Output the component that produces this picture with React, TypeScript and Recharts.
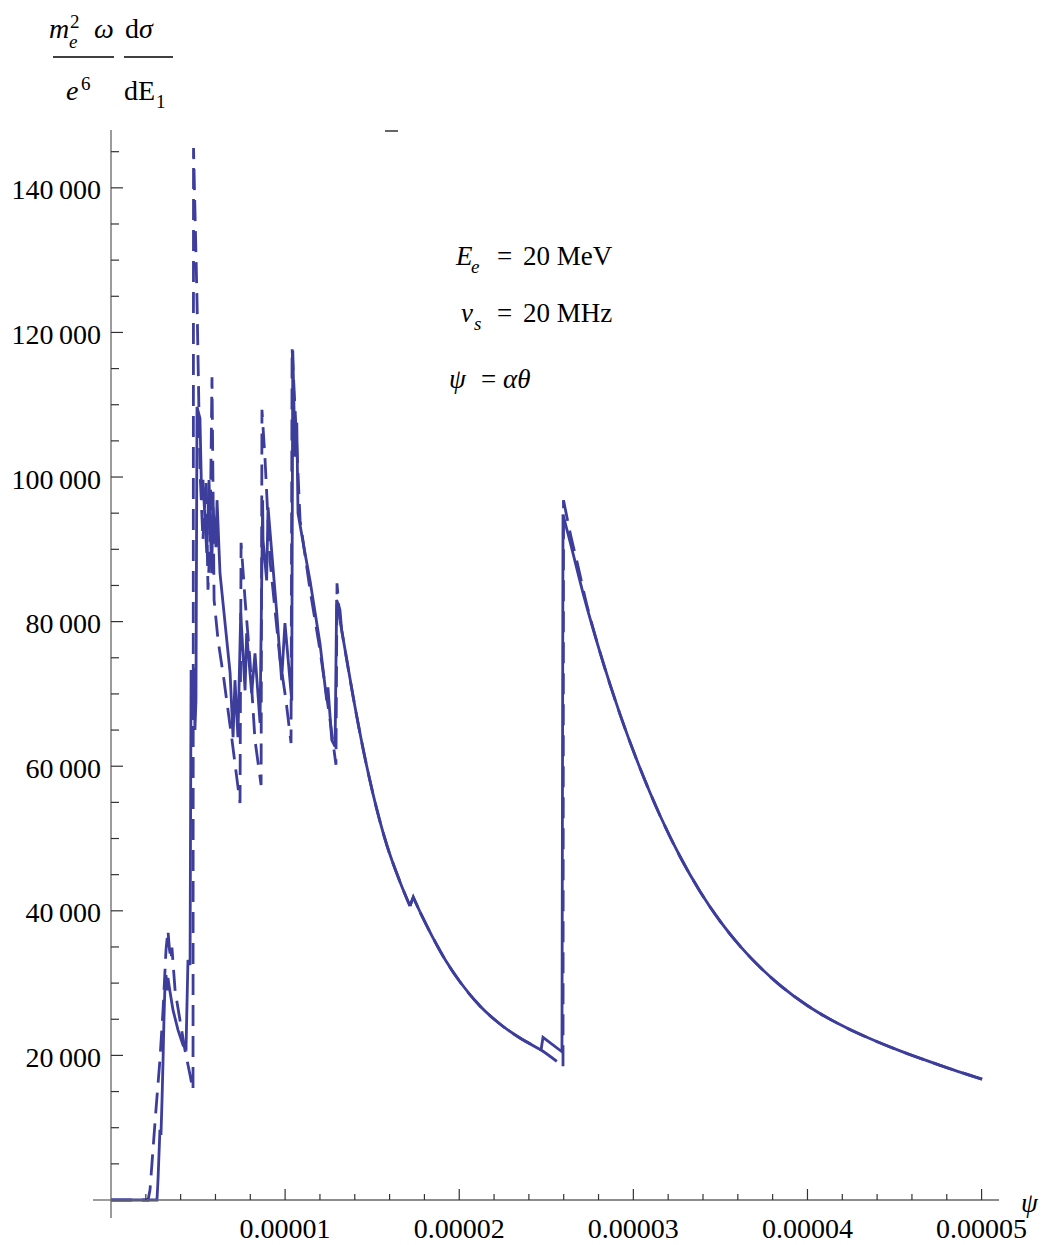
import React from 'react';
import { LineChart, Line, XAxis, YAxis } from 'recharts';

// psi in units of 1e-6; values of (m_e^2 ω / e^6) dσ/dE1
// solid curve: jagged part (straight segments)
const solidJaggedPsi = [
  0, 2.64, 2.70, 2.81, 2.87, 2.93, 2.99, 3.04, 3.10, 3.16, 3.22, 3.27, 3.39, 3.56, 3.85, 4.14, 4.31, 4.37, 4.42, 4.54,
  4.60, 4.65, 4.77, 4.82, 4.88, 4.94, 5.11, 5.21, 5.28, 5.50, 5.63, 5.78, 5.86, 6.03, 6.09, 6.26, 6.55, 6.84, 7.01, 7.12,
  7.29, 7.45, 7.70, 7.79, 8.08, 8.27, 8.56, 8.71, 8.73, 8.94, 9.02, 9.52, 9.80, 9.99, 10.38, 10.44, 10.57, 10.67, 10.74, 11.10,
  11.43, 12.00, 12.39, 12.46, 12.68, 12.87, 12.96, 13.15, 13.25,
];
const solidJaggedVal = [
  0, 0, 2770, 9700, 9000, 13800, 19400, 24900, 29700, 31100, 29000, 30700, 28800, 26300, 23500, 21400, 21000, 27700, 33200, 32500,
  73300, 66400, 73600, 65000, 69100, 109700, 108100, 96800, 99600, 89500, 99600, 86700, 95800, 90300, 96800, 86700, 79800, 72900, 64000, 71900,
  64000, 81200, 70500, 78400, 70100, 75600, 66000, 96800, 91300, 85700, 95800, 81200, 71900, 79800, 69100, 117500, 102800, 107500, 95000, 90000,
  85700, 77000, 69100, 70900, 63600, 62700, 83000, 81600, 78800,
];
// solid curve: first smooth decay, small sawtooth, second smooth decay
const solidDecayAPsi = [13.25, 13.90, 14.47, 15.05, 15.84, 16.60, 17.17];
const solidDecayAVal = [78800, 69700, 62500, 56150, 49100, 44000, 40660];
const bumpPsi = [17.17, 17.36, 17.75];
const bumpVal = [40660, 41900, 39830];
const solidDecayBPsi = [17.75, 18.50, 19.24, 20.05, 21.19, 22.34, 23.49, 24.70];
const solidDecayBVal = [39830, 36230, 33050, 30150, 26830, 24340, 22400, 20750];
// solid curve: step and jump near 2.6e-5
const solidJumpPsi = [24.70, 24.81, 25.90, 25.96];
const solidJumpVal = [20750, 22500, 20500, 94800];
// solid curve: last decay
const solidTailPsi = [25.96, 26.36, 27.11, 28.09, 29.24, 30.39, 31.53, 32.68, 33.83, 34.98, 36.13, 37.28, 38.43, 40.03, 41.87, 43.48, 45.32, 47.62, 50.03];
const solidTailVal = [94800, 91100, 83950, 75720, 67140, 59680, 53180, 47510, 42670, 38570, 35110, 32180, 29690, 26830, 24260, 22430, 20620, 18630, 16710];

// dashed curve
const dashedJaggedPsi = [
  0, 2.13, 2.24, 2.41, 2.58, 2.81, 2.99, 3.16, 3.27, 3.36, 3.45, 3.50, 3.68, 3.96, 4.25, 4.54, 4.71, 4.74, 4.94, 5.11,
  5.28, 5.46, 5.57, 5.69, 5.80, 5.92, 6.15, 6.49, 6.95, 7.41, 7.47, 7.70, 7.98, 8.27, 8.62, 8.67, 8.85, 9.13, 9.71, 10.05,
  10.34, 10.40, 10.63, 10.86, 11.43, 12.00, 12.58, 12.92, 12.98, 13.15,
];
const dashedJaggedVal = [
  0, 0, 1400, 6900, 12400, 19400, 26300, 34600, 37300, 34600, 33200, 34900, 29000, 24900, 20700, 17300, 15200, 145500, 124500, 101000,
  91300, 99600, 84400, 91300, 113800, 83000, 77400, 71900, 63600, 54900, 90900, 83000, 74700, 63600, 57400, 109300, 102300, 88500, 74700, 69100,
  63200, 117800, 106500, 94000, 84400, 76100, 66400, 60200, 85300, 80200,
];
const dashedDecayAPsi = [13.15, 13.44, 13.90, 14.47, 15.05, 15.84, 16.60, 17.17];
const dashedDecayAVal = [80200, 76100, 69700, 62500, 56150, 49100, 44000, 40660];
const dashedDecayBPsi = [17.75, 18.50, 19.24, 20.05, 21.19, 22.34, 23.49, 24.70, 25.96];
const dashedDecayBVal = [39830, 36230, 33050, 30150, 26830, 24340, 22400, 20750, 18500];
const dashedJumpPsi = [25.96, 25.99];
const dashedJumpVal = [18500, 96800];
const dashedTailPsi = [25.99, 26.36, 26.82, 27.23, 28.09, 29.24, 30.39, 31.53, 32.68, 33.83, 34.98, 36.13, 37.28, 38.43, 40.03, 41.87, 43.48, 45.32, 47.62, 50.03];
const dashedTailVal = [96800, 92400, 87700, 83300, 75720, 67140, 59680, 53180, 47510, 42670, 38570, 35110, 32180, 29690, 26830, 24260, 22430, 20620, 18630, 16710];

const xTickMicro = [0, 2, 4, 6, 8, 10, 12, 14, 16, 18, 20, 22, 24, 26, 28, 30, 32, 34, 36, 38, 40, 42, 44, 46, 48, 50];
const yTickValues = [0, 5000, 10000, 15000, 20000, 25000, 30000, 35000, 40000, 45000, 50000, 55000, 60000, 65000, 70000,
  75000, 80000, 85000, 90000, 95000, 100000, 105000, 110000, 115000, 120000, 125000, 130000, 135000, 140000, 145000];

const toData = (psi: number[], val: number[]) => psi.map((p, i) => ({ x: p * 1e-6, y: val[i] }));
const xTicks = xTickMicro.map((m) => m * 1e-6);

const solidSegments = [
  { data: toData(solidJaggedPsi, solidJaggedVal), curve: 'linear' },
  { data: toData(solidDecayAPsi, solidDecayAVal), curve: 'monotone' },
  { data: toData(bumpPsi, bumpVal), curve: 'linear' },
  { data: toData(solidDecayBPsi, solidDecayBVal), curve: 'monotone' },
  { data: toData(solidJumpPsi, solidJumpVal), curve: 'linear' },
  { data: toData(solidTailPsi, solidTailVal), curve: 'monotone' },
];
const dashedSegments = [
  { data: toData(dashedJaggedPsi, dashedJaggedVal), curve: 'linear' },
  { data: toData(dashedDecayAPsi, dashedDecayAVal), curve: 'monotone' },
  { data: toData(bumpPsi, bumpVal), curve: 'linear' },
  { data: toData(dashedDecayBPsi, dashedDecayBVal), curve: 'monotone' },
  { data: toData(dashedJumpPsi, dashedJumpVal), curve: 'linear' },
  { data: toData(dashedTailPsi, dashedTailVal), curve: 'monotone' },
];

const FONT = '"Liberation Serif", "Times New Roman", serif';
const LINE = '#3d3d9c';
const AXIS = '#666';
const TICK = '#333';

const XTick = (props: any) => {
  const { x, y, payload } = props;
  const v = payload.value as number;
  const k = Math.round(v * 1e6);
  const major = k % 10 === 0;
  return (
    <g>
      {k === 0 ? (
        <line x1={x - 18} y1={y} x2={x} y2={y} stroke={AXIS} strokeWidth={1.3} />
      ) : (
        <line x1={x} y1={y} x2={x} y2={y - (major ? 11 : 6)} stroke={TICK} strokeWidth={1.2} />
      )}
      {major && k !== 0 ? (
        <text x={x} y={y + 38} textAnchor="middle" fontFamily={FONT} fontSize={28} fill="#000">
          {(k * 1e-6).toFixed(5)}
        </text>
      ) : null}
    </g>
  );
};

const YTick = (props: any) => {
  const { x, y, payload } = props;
  const v = payload.value as number;
  const major = v % 20000 === 0;
  return (
    <g>
      {v === 0 ? (
        <line x1={x} y1={y} x2={x} y2={y + 18} stroke={AXIS} strokeWidth={1.3} />
      ) : (
        <line x1={x} y1={y} x2={x + (major ? 12 : 8)} y2={y} stroke={TICK} strokeWidth={1.2} />
      )}
      {major && v > 0 ? (
        <text x={x - 10} y={y + 11.5} textAnchor="end" fontFamily={FONT} fontSize={28} fill="#000">
          {`${Math.round(v / 1000)}\u2009000`}
        </text>
      ) : null}
    </g>
  );
};

export default function App() {
  return (
    <div style={{ position: 'absolute', left: 0, top: 0, width: 1043, height: 1245, background: '#fff' }}>
      <LineChart width={1043} height={1245} margin={{ top: 130, right: 44, bottom: 15, left: 0 }}>
        <XAxis
          dataKey="x"
          type="number"
          domain={[0, 5.1e-5]}
          ticks={xTicks}
          interval={0}
          tickSize={0}
          tickMargin={0}
          tick={<XTick />}
          tickLine={false}
          axisLine={{ stroke: AXIS, strokeWidth: 1.3 }}
          height={30}
          allowDuplicatedCategory={false}
        />
        <YAxis
          type="number"
          domain={[0, 148000]}
          ticks={yTickValues}
          interval={0}
          tickSize={0}
          tickMargin={0}
          tick={<YTick />}
          tickLine={false}
          axisLine={{ stroke: AXIS, strokeWidth: 1.3 }}
          width={111}
        />
        {solidSegments.map((s, i) => (
          <Line
            key={`s${i}`}
            data={s.data}
            dataKey="y"
            type={s.curve as any}
            stroke={LINE}
            strokeWidth={2.8}
            dot={false}
            activeDot={false}
            isAnimationActive={false}
          />
        ))}
        {dashedSegments.map((s, i) => (
          <Line
            key={`d${i}`}
            data={s.data}
            dataKey="y"
            type={s.curve as any}
            stroke={LINE}
            strokeWidth={2.8}
            strokeDasharray="21 10"
            dot={false}
            activeDot={false}
            isAnimationActive={false}
          />
        ))}
      </LineChart>
      <svg
        width={1043}
        height={1245}
        style={{ position: 'absolute', left: 0, top: 0, pointerEvents: 'none' }}
        fontFamily={FONT}
      >
        {/* y axis label: m_e^2 ω / e^6 · dσ/dE1 */}
        <text x={49} y={38} fontSize={28} fontStyle="italic">m</text>
        <text x={70} y={28} fontSize={19}>2</text>
        <text x={69} y={48} fontSize={19} fontStyle="italic">e</text>
        <text x={94} y={38} fontSize={28} fontStyle="italic">ω</text>
        <line x1={53} y1={57} x2={114} y2={57} stroke="#000" strokeWidth={1.3} />
        <text x={66} y={100} fontSize={28} fontStyle="italic">e</text>
        <text x={81} y={90} fontSize={19}>6</text>
        <text x={125} y={38} fontSize={28}>
          d<tspan fontStyle="italic">σ</tspan>
        </text>
        <line x1={124} y1={57} x2={173} y2={57} stroke="#000" strokeWidth={1.3} />
        <text x={124} y={100} fontSize={28}>dE</text>
        <text x={156} y={108} fontSize={19}>1</text>
        <line x1={385} y1={131} x2={398} y2={131} stroke="#333" strokeWidth={1.5} />

        {/* annotations */}
        <text x={456} y={265} fontSize={27} fontStyle="italic">E</text>
        <text x={471} y={273} fontSize={19} fontStyle="italic">e</text>
        <text x={497} y={265} fontSize={27}>=</text>
        <text x={523} y={265} fontSize={27}>20 MeV</text>

        <text x={461} y={322} fontSize={27} fontStyle="italic">ν</text>
        <text x={474} y={330} fontSize={19} fontStyle="italic">s</text>
        <text x={497} y={322} fontSize={27}>=</text>
        <text x={523} y={322} fontSize={27}>20 MHz</text>

        <text x={449} y={388} fontSize={27} fontStyle="italic">ψ</text>
        <text x={481} y={388} fontSize={27}>=</text>
        <text x={503} y={388} fontSize={27} fontStyle="italic">αθ</text>

        {/* x axis label */}
        <text x={1021} y={1212} fontSize={27} fontStyle="italic">ψ</text>
      </svg>
    </div>
  );
}
